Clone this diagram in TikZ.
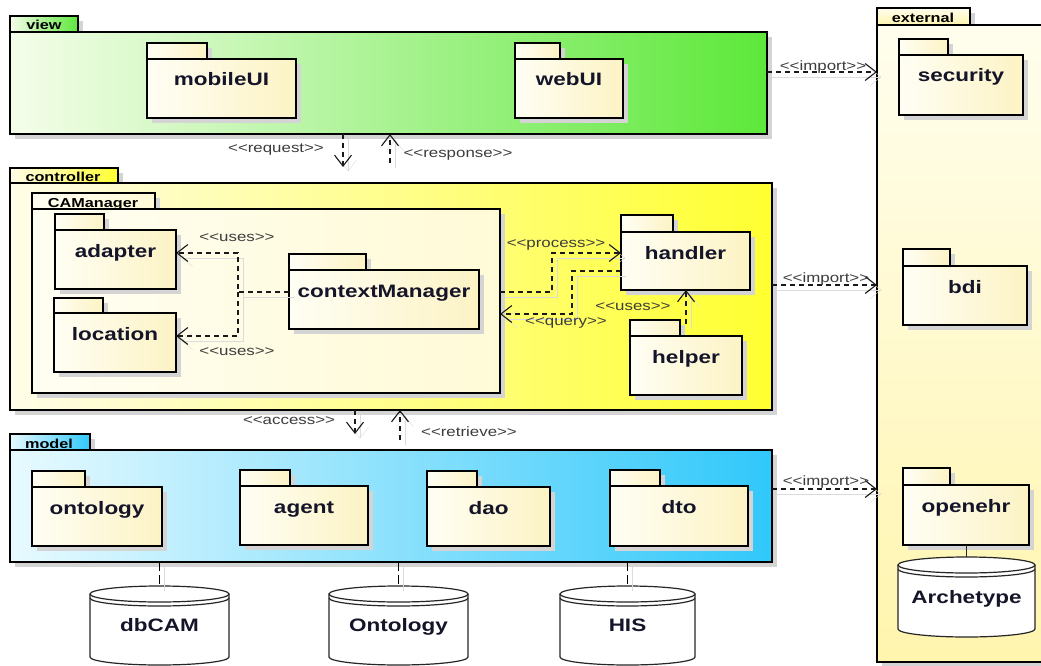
\documentclass[tikz,border=0pt]{standalone}
\usepackage{fontspec}
\setmainfont{Liberation Sans}[FakeStretch=1.25]
\newfontfamily\stfont{Liberation Sans}[FakeStretch=1.25, Ligatures=TeXOff]
\usetikzlibrary{arrows.meta,fit,calc}

\definecolor{viewL}{HTML}{F5FDEA}
\definecolor{viewR}{HTML}{5DE83A}
\definecolor{ctrlL}{HTML}{FFFDE8}
\definecolor{ctrlR}{HTML}{FFFF30}
\definecolor{modelL}{HTML}{E8FAFF}
\definecolor{modelR}{HTML}{30C8FA}
\definecolor{extT}{HTML}{FFFEEE}
\definecolor{extB}{HTML}{FFF5AE}
\definecolor{creamL}{HTML}{FFFEF4}
\definecolor{creamR}{HTML}{FCF3C4}
\definecolor{caL}{HTML}{FFFEF2}
\definecolor{caR}{HTML}{FFFAD6}
\definecolor{namec}{HTML}{15152A}
\definecolor{stc}{HTML}{3C3C3C}

\tikzset{
  pkgline/.style={draw=black, line width=1.5pt},
  pkgshadow/.style={fill=black!17},
  viewfill/.style={left color=viewL, right color=viewR},
  ctrlfill/.style={left color=ctrlL, right color=ctrlR},
  modelfill/.style={left color=modelL, right color=modelR},
  extfill/.style={top color=extT, bottom color=extB},
  cafill/.style={left color=caL, right color=caR},
  creamfill/.style={left color=creamL, right color=creamR},
  pkgtitle/.style={font=\bfseries\fontsize{18}{20}\selectfont, text=namec, anchor=base, inner sep=0pt},
  tabtitle/.style={font=\bfseries\fontsize{13}{15}\selectfont, text=black, anchor=base, inner sep=0pt},
  stereo/.style={font=\stfont\fontsize{13.5}{15}\selectfont, text=stc, inner sep=0pt},
  lineshadow/.style={preaction={draw=black!14, solid, transform canvas={shift={(5pt,-5pt)}}}},
  dep/.style={draw=black!90, line width=1.1pt, dash pattern=on 5pt off 4pt,
    -{Straight Barb[length=11pt,width=17pt]}, lineshadow},
  dbline/.style={draw=black, line width=1pt, dash pattern=on 9pt off 4pt, lineshadow},
  cyl/.style={draw=black!85, line width=1.2pt},
}

% package: name, left x, tab top, tab right x, body top, right x, bottom, fill style
\newcommand\pkg[8]{%
  \fill[pkgshadow] ({#2+5},{#3+5}) rectangle ({#4+5},{#5+5});
  \fill[pkgshadow] ({#2+5},{#5+5}) rectangle ({#6+5},{#7+5});
  \path[pkgline,#8] (#2,#3) rectangle (#4,#5);
  \node[pkgline,#8,fit={(#2,#5) (#6,#7)},inner sep=0pt,outer sep=0pt] (#1) {};
}
% title inside the body of a package
\newcommand\pkgname[2]{%
  \node[pkgtitle] (#1-t) at ($(#1.north)+(0,27)$) {#2};
}
% database cylinder: name, centre x, x radius, top rim y, bottom rim y, label
\newcommand\dbcyl[6]{%
  \node[inner sep=0pt,outer sep=0pt,fit={({#2-#3},{#4-8}) ({#2+#3},{#5+8})}] (#1) {};
  \fill[white] ({#2-#3},{#4}) -- ({#2-#3},{#5})
    arc[start angle=180,end angle=360,x radius=#3pt,y radius=8pt] -- ({#2+#3},{#4}) -- cycle;
  \draw[cyl] ({#2-#3},{#4}) -- ({#2-#3},{#5})
    arc[start angle=180,end angle=360,x radius=#3pt,y radius=8pt] -- ({#2+#3},{#4});
  \draw[cyl,fill=white] (#2,#4) ellipse[x radius=#3pt,y radius=8pt];
  \draw[cyl] ({#2-#3},{#4+4}) arc[start angle=180,end angle=360,x radius=#3pt,y radius=8pt];
  \node[pkgtitle] (#1-t) at (#2,{#5-26}) {#6};
}

\begin{document}
\begin{tikzpicture}[x=1pt,y=-1pt]
\useasboundingbox (0,0) rectangle (1041,666);
\clip (0,0) rectangle (1041,666);
\fill[white] (0,0) rectangle (1041,666);

% ---------- outer packages ----------
\pkg{view}{10}{16}{78}{32}{767}{134}{viewfill}
\node[tabtitle] (view-t) at (44,30) {view};

\pkg{controller}{10}{168}{118}{183}{772}{410}{ctrlfill}
\node[tabtitle] (controller-t) at (63,181) {controller};

\pkg{model}{10}{434}{90}{450}{772}{562}{modelfill}
\node[tabtitle] (model-t) at (49,448) {model};

\pkg{external}{877}{8}{970}{25}{1046}{662}{extfill}
\node[tabtitle] (external-t) at (923,23) {external};

% ---------- view ----------
\pkg{mobileUI}{147}{43}{207}{59}{296}{118}{creamfill}
\pkgname{mobileUI}{mobileUI}
\pkg{webUI}{515}{43}{560}{59}{623}{118}{creamfill}
\pkgname{webUI}{webUI}

% ---------- external ----------
\pkg{security}{899}{39}{948}{55}{1023}{115}{creamfill}
\pkgname{security}{security}
\pkg{bdi}{903}{249}{950}{266}{1027}{325}{creamfill}
\pkgname{bdi}{bdi}
\pkg{openehr}{903}{468}{950}{485}{1029}{545}{creamfill}
\pkgname{openehr}{openehr}
\dbcyl{archetype}{966.5}{68.5}{565}{629}{Archetype}

% ---------- controller ----------
\pkg{CAManager}{32}{193}{155}{209}{500}{393}{cafill}
\node[tabtitle] (CAManager-t) at (93,207) {CAManager};
\pkg{adapter}{55}{214}{104}{230}{176}{289}{creamfill}
\pkgname{adapter}{adapter}
\pkg{location}{54}{298}{103}{313}{176}{372}{creamfill}
\pkgname{location}{location}
\pkg{contextManager}{289}{254}{366}{270}{479}{329}{creamfill}
\pkgname{contextManager}{contextManager}
\pkg{handler}{621}{215}{673}{232}{750}{290}{creamfill}
\pkgname{handler}{handler}
\pkg{helper}{630}{320}{680}{336}{742}{395}{creamfill}
\pkgname{helper}{helper}

% ---------- model ----------
\pkg{ontology}{32}{471}{85}{487}{162}{546}{creamfill}
\pkgname{ontology}{ontology}
\pkg{agent}{240}{470}{290}{486}{368}{545}{creamfill}
\pkgname{agent}{agent}
\pkg{dao}{427}{471}{477}{487}{550}{546}{creamfill}
\pkgname{dao}{dao}
\pkg{dto}{610}{470}{660}{486}{748}{546}{creamfill}
\pkgname{dto}{dto}

% ---------- databases ----------
\dbcyl{dbcam}{159.5}{69.5}{594}{657}{dbCAM}
\dbcyl{ontodb}{398.5}{69.5}{594}{657}{Ontology}
\dbcyl{his}{627.5}{67.5}{594}{657}{HIS}

\draw[dbline] (model.south -| dbcam.north) -- (dbcam.north);
\draw[dbline] (model.south -| ontodb.north) -- (ontodb.north);
\draw[dbline] (model.south -| his.north) -- (his.north);
\draw[cyl,line width=1pt] (openehr.south -| archetype.north) -- (archetype.north);

% ---------- dependencies between layers ----------
\coordinate (reqEnd) at (343,167);
\coordinate (respStart) at (390,163);
\coordinate (accEnd) at (355,434);
\coordinate (retStart) at (400,440);
\draw[dep] (view.south -| reqEnd) -- (reqEnd);
\draw[dep] (respStart) -- (view.south -| respStart);
\draw[dep] (controller.south -| accEnd) -- (accEnd);
\draw[dep] (retStart) -- (controller.south -| retStart);
\node[stereo] (req-l) at (276,150) {<<request>>};
\node[stereo] (resp-l) at (458,155) {<<response>>};
\node[stereo] (acc-l) at (289,421) {<<access>>};
\node[stereo] (ret-l) at (469,432) {<<retrieve>>};

% ---------- imports ----------
\coordinate (impA) at (820,72);
\coordinate (impB) at (820,285);
\coordinate (impC) at (820,489);
\draw[dep] (view.east |- impA) -- (external.west |- impA);
\draw[dep] (controller.east |- impB) -- (external.west |- impB);
\draw[dep] (model.east |- impC) -- (external.west |- impC);
\node[stereo] (impA-l) at (823,67) {<<import>>};
\node[stereo] (impB-l) at (826,279) {<<import>>};
\node[stereo] (impC-l) at (826,482) {<<import>>};

% ---------- inside the controller ----------
\coordinate (usesJ) at (238,292);
\draw[dep] ([yshift=7.5pt]contextManager.west) -- (usesJ) |- ([yshift=6.5pt]adapter.east);
\draw[dep] (usesJ) |- ([yshift=6.5pt]location.east);
\node[stereo] (usesA-l) at (237,238) {<<uses>>};
\node[stereo] (usesL-l) at (237,352) {<<uses>>};

\draw[dep] ([yshift=9pt]CAManager.east) -- ++(52,0) |- ([yshift=8pt]handler.west);
\draw[dep] ([yshift=-10pt]handler.west) -- ++(-49,0) |- ([yshift=-13pt]CAManager.east);
\node[stereo] (proc-l) at (556,245) {<<process>>};
\node[stereo] (query-l) at (566,323) {<<query>>};

\draw[dep] ([yshift=12pt]helper.north) -- (handler.south -| helper.north);
\node[stereo] (usesH-l) at (633,307) {<<uses>>};
\end{tikzpicture}
\end{document}
